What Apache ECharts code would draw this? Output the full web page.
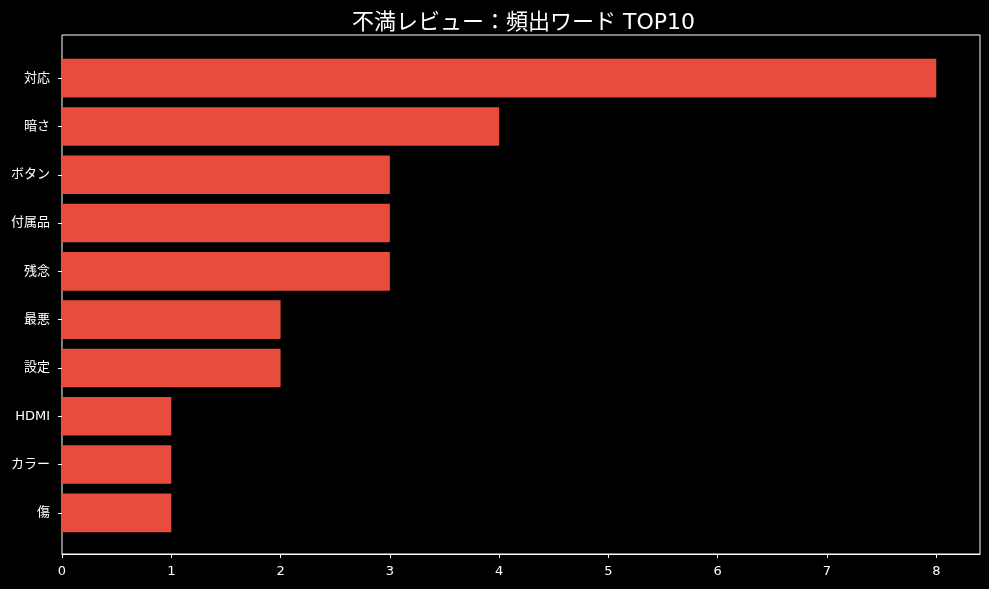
<!DOCTYPE html>
<html><head><meta charset="utf-8">
<script src="https://cdn.jsdelivr.net/npm/echarts@6/dist/echarts.min.js"></script>
<style>html,body{margin:0;padding:0;background:#000;}#c{width:989px;height:589px;}</style>
</head><body><div id="c"></div>
<script>
const categories = ['対応','暗さ','ボタン','付属品','残念','最悪','設定','HDMI','カラー','傷'];
const counts = [8,4,3,3,3,2,2,1,1,1];
const xTicks = [0,1,2,3,4,5,6,7,8];
const titleText = '不満レビュー：頻出ワード TOP10';
const FONT = '"DejaVu Sans","Noto Sans CJK JP",sans-serif';
const chart = echarts.init(document.getElementById('c'));
chart.setOption({
  backgroundColor:'#000',
  animation:false,
  title:{text:titleText,left:347,top:7,textStyle:{color:'#fff',fontSize:22,fontWeight:'normal',fontFamily:FONT}},
  grid:[
    {left:62,right:9,top:54,bottom:52,show:false},
    {left:62,right:9,top:35,bottom:35,show:true,borderColor:'#fff',borderWidth:1,backgroundColor:'transparent'}
  ],
  xAxis:[
    {type:'value',gridIndex:0,min:0,max:8.4,interval:1,offset:17,
     axisLine:{show:true,lineStyle:{color:'#fff'}},
     axisTick:{show:true,length:4,lineStyle:{color:'#fff'},customValues:xTicks},
     axisLabel:{color:'#fff',fontSize:13,fontFamily:FONT,margin:11,customValues:xTicks,formatter:v=>String(v)},
     splitLine:{show:false}},
    {type:'value',gridIndex:1,show:false}
  ],
  yAxis:[
    {type:'category',gridIndex:0,data:categories,inverse:true,
     axisLine:{show:false},
     axisTick:{show:true,length:4,alignWithLabel:true,lineStyle:{color:'#fff'}},
     axisLabel:{color:'#fff',fontSize:13,fontFamily:FONT,margin:12},
     splitLine:{show:false}},
    {type:'value',gridIndex:1,show:false}
  ],
  series:[{type:'bar',xAxisIndex:0,yAxisIndex:0,data:counts,barWidth:'80%',
    itemStyle:{color:'#e74c3c'}}]
});
</script></body></html>
